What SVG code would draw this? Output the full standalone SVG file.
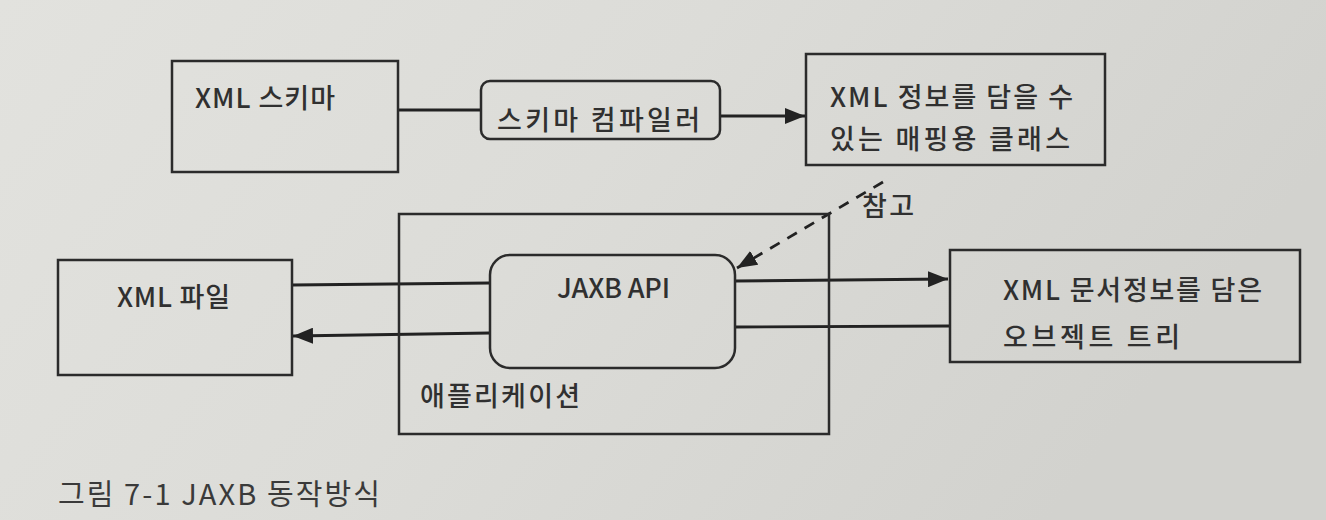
<svg xmlns="http://www.w3.org/2000/svg" width="1326" height="520" viewBox="0 0 1326 520">
<defs>
<linearGradient id="bg" x1="0" y1="0" x2="1" y2="0.3">
<stop offset="0" stop-color="#e2e2de"/>
<stop offset="0.5" stop-color="#dcdcd8"/>
<stop offset="1" stop-color="#d2d2ce"/>
</linearGradient>
<marker id="ah" viewBox="0 0 20 16" refX="20" refY="8" markerWidth="20" markerHeight="16" markerUnits="userSpaceOnUse" orient="auto">
<path d="M0,0 L20,8 L0,16 z" fill="#222"/>
</marker>
</defs>
<style>
.box{fill:none;stroke:#2b2b2b;stroke-width:2.5}
.ln{fill:none;stroke:#222;stroke-width:2.8}
.dash{fill:none;stroke:#222;stroke-width:2.8;stroke-dasharray:11 9}
text{font-family:"Noto Sans CJK KR","Noto Sans",sans-serif;fill:#303030;font-size:27px;font-weight:500}
.cap{font-size:29px;fill:#3a3a3a;font-weight:400}
</style>
<rect x="0" y="0" width="1326" height="520" fill="url(#bg)"/>

<g id="connectors">
<line class="ln" x1="398" y1="110" x2="481" y2="110"/>
<line class="ln" x1="720" y1="116" x2="805" y2="116" marker-end="url(#ah)"/>
<line class="ln" x1="292" y1="285" x2="490" y2="283"/>
<line class="ln" x1="490" y1="333" x2="293" y2="336" marker-end="url(#ah)"/>
<line class="ln" x1="735" y1="281" x2="948" y2="279" marker-end="url(#ah)"/>
<line class="ln" x1="735" y1="327" x2="950" y2="326"/>
<line class="dash" x1="883" y1="182" x2="737" y2="268" marker-end="url(#ah)"/>
</g>

<g id="node-schema">
<rect class="box" x="172" y="61" width="226" height="111"/>
<text x="195" y="108" textLength="140" lengthAdjust="spacing">XML 스키마</text>
</g>

<g id="node-compiler">
<rect class="box" x="481" y="81" width="239" height="58" rx="9"/>
<text x="497" y="130" textLength="203" lengthAdjust="spacing">스키마 컴파일러</text>
</g>

<g id="node-classes">
<rect class="box" x="806" y="54" width="299" height="111"/>
<text x="830" y="107" textLength="243" lengthAdjust="spacing">XML 정보를 담을 수</text>
<text x="830" y="149" textLength="240" lengthAdjust="spacing">있는 매핑용 클래스</text>
</g>

<g id="label-ref">
<text x="862" y="216" textLength="52" lengthAdjust="spacing">참고</text>
</g>

<g id="node-app">
<rect class="box" x="399" y="214" width="430" height="220"/>
<text x="420" y="406" textLength="160" lengthAdjust="spacing">애플리케이션</text>
</g>

<g id="node-jaxb">
<rect class="box" x="490" y="255" width="245" height="113" rx="20"/>
<text x="557" y="298" textLength="113" lengthAdjust="spacing">JAXB API</text>
</g>

<g id="node-xmlfile">
<rect class="box" x="58" y="260" width="234" height="115"/>
<text x="117" y="307" textLength="113" lengthAdjust="spacing">XML 파일</text>
</g>

<g id="node-tree">
<rect class="box" x="950" y="250" width="350" height="112"/>
<text x="1003" y="300" textLength="259" lengthAdjust="spacing">XML 문서정보를 담은</text>
<text x="1003" y="347" textLength="177" lengthAdjust="spacing">오브젝트 트리</text>
</g>

<text class="cap" x="58" y="505" textLength="322" lengthAdjust="spacing">그림 7-1 JAXB 동작방식</text>
</svg>
